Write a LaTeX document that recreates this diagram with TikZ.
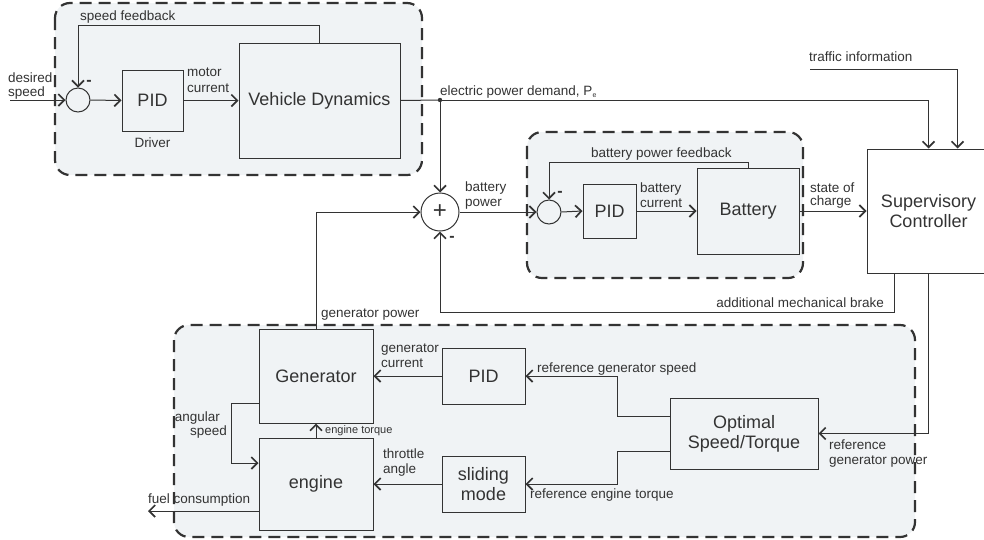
\documentclass[tikz,border=0pt]{standalone}
\usepackage{fontspec}
\setmainfont{Liberation Sans}
\usetikzlibrary{arrows.meta}
\definecolor{ln}{HTML}{333333}
\definecolor{bg}{HTML}{F0F3F5}
\begin{document}
\begin{tikzpicture}[x=1pt,y=-1pt,
  lbl/.style={font=\fontsize{13.5}{15}\selectfont, text=ln, inner sep=0pt, anchor=base west},
  lble/.style={lbl, anchor=base east},
  blk/.style={draw=ln, line width=1pt, rectangle, inner sep=0pt, text=ln,
              font=\fontsize{18}{20}\selectfont, align=center},
  sumc/.style={draw=ln, line width=1pt, circle, inner sep=0pt, text=ln},
  wire/.style={draw=ln, line width=1pt},
  arr/.style={wire, -{Straight Barb[length=6pt,width=12pt,line width=1.7pt]}},
  minus/.style={font=\fontsize{16}{16}\selectfont\bfseries, text=ln, inner sep=0pt},
  grp/.style={draw=ln, fill=bg, line width=2.2pt, dash pattern=on 12pt off 7pt, rounded corners=15pt}]
\useasboundingbox (0,0) rectangle (984,539);

% group backgrounds
\path[grp] (55,3) rectangle (422,175);
\path[grp] (527,132) rectangle (803,278);
\path[grp] (174,325) rectangle (915,537);

% blocks
\node[blk, minimum width=61, minimum height=61] (dpid) at (152.5,100.5) {PID};
\node[blk, minimum width=161, minimum height=115] (vd) at (319.5,100.5) {Vehicle Dynamics};
\node[sumc, minimum size=24] (s1) at (78,100) {};
\node[sumc, minimum size=38, font=\fontsize{24}{24}\selectfont] (s2) at (440,212) {+};
\node[sumc, minimum size=24] (s3) at (549,212) {};
\node[blk, minimum width=53, minimum height=54] (bpid) at (609.5,211) {PID};
\node[blk, minimum width=102, minimum height=86] (bat) at (748,211) {Battery};
\node[blk, minimum width=123, minimum height=124] (sc) at (928.5,211) {Supervisory\\Controller};
\node[blk, minimum width=114, minimum height=94] (gen) at (316,376) {Generator};
\node[blk, minimum width=114, minimum height=92] (eng) at (316,484) {engine};
\node[blk, minimum width=83, minimum height=56] (gpid) at (483.5,376) {PID};
\node[blk, minimum width=83, minimum height=56] (sm) at (483.5,484) {sliding\\mode};
\node[blk, minimum width=148, minimum height=71] (opt) at (744,433.5) {Optimal\\Speed/Torque};

% free ends
\coordinate (in1) at (10,100);
\coordinate (j) at (440,100);
\coordinate (ti) at (810,69);
\coordinate (fuel) at (148,511);

% connectors
\draw[arr] (in1) -- (s1.west);
\draw[arr] (s1.east) -- (dpid.west);
\draw[arr] (dpid.east) -- (vd.west);
\draw[arr] (vd.north) -- ++(0,-17) -| (s1.north);
\draw[wire] (vd.east) -- (j);
\fill[ln] (j) circle (2.2);
\draw[arr] (j) -- (s2.north);
\draw[arr] (j) -| (sc.north);
\draw[arr] (ti) -| ([xshift=29pt]sc.north);
\draw[arr] (s2.east) -- (s3.west);
\draw[arr] (s3.east) -- (bpid.west);
\draw[arr] (bpid.east) -- (bat.west);
\draw[arr] (bat.north) -- ++(0,-5) -| (s3.north);
\draw[arr] (bat.east) -- (sc.west);
\draw[arr] ([xshift=-34.5pt]sc.south) -- ++(0,39) -| (s2.south);
\draw[arr] (sc.south) |- (opt.east);
\draw[arr] ([yshift=17.5pt]opt.west) -- ++(-52,0) |- (gpid.east);
\draw[arr] ([yshift=-17.5pt]opt.west) -- ++(-52,0) |- (sm.east);
\draw[arr] (gpid.west) -- (gen.east);
\draw[arr] (sm.west) -- (eng.east);
\draw[arr] (eng.north) -- (gen.south);
\draw[arr] ([yshift=-27pt]gen.west) -- ++(-27,0) |- ([yshift=21pt]eng.west);
\draw[arr] ([yshift=-27pt]eng.west) -- (fuel);
\draw[arr] (gen.north) |- (s2.west);

% labels
\node[lbl] (t1) at (80,20) {speed feedback};
\node[lbl] (t2a) at (8,82) {desired};
\node[lbl] (t2b) at (8,96.5) {speed};
\node[lbl] (t3a) at (187,76) {motor};
\node[lbl] (t3b) at (187,92) {current};
\node[lbl, anchor=base] (t4) at (152.5,147) {Driver};
\node[lbl] (t5) at (440,95) {electric power demand, P{\fontsize{7}{8}\selectfont\raisebox{-2pt}{e}}};
\node[lbl] (t6) at (809,61) {traffic information};
\node[lbl] (t7a) at (465,191) {battery};
\node[lbl] (t7b) at (465,206) {power};
\node[lbl] (t8) at (591,157) {battery power feedback};
\node[lbl] (t9a) at (640,192) {battery};
\node[lbl] (t9b) at (640,207) {current};
\node[lbl] (t10a) at (810,192) {state of};
\node[lbl] (t10b) at (810,205) {charge};
\node[lble] (t11) at (884,307) {additional mechanical brake};
\node[lbl] (t12) at (321,317) {generator power};
\node[lbl] (t13a) at (381,352) {generator};
\node[lbl] (t13b) at (381,367) {current};
\node[lble] (t14a) at (220,421) {angular};
\node[lble] (t14b) at (227,435) {speed};
\node[lbl, font=\fontsize{11}{12}\selectfont] (t15) at (325,433) {engine torque};
\node[lbl] (t16a) at (383,458) {throttle};
\node[lbl] (t16b) at (383,473) {angle};
\node[lbl] (t17) at (148,503) {fuel consumption};
\node[lbl] (t18) at (537,372) {reference generator speed};
\node[lbl] (t19) at (530,498) {reference engine torque};
\node[lbl] (t20a) at (829,449) {reference};
\node[lbl] (t20b) at (829,464) {generator power};
\node[minus] (m1) at (89,83) {-};
\node[minus] (m2) at (452,239) {-};
\node[minus] (m3) at (560,194) {-};
\end{tikzpicture}
\end{document}
